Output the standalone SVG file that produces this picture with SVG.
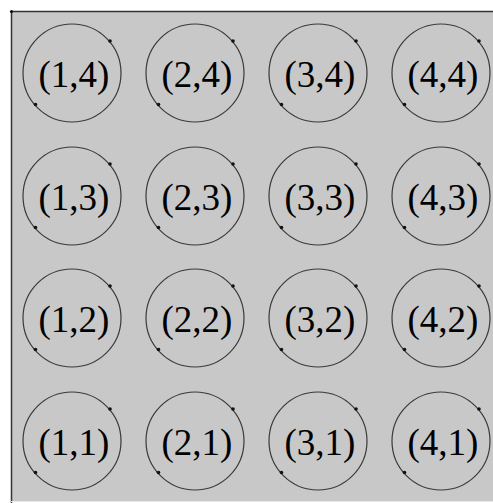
<svg xmlns="http://www.w3.org/2000/svg" width="493" height="503" viewBox="0 0 493 503">
<style>
.ring{fill:none;stroke:#3a3a3a;stroke-width:1.2}
.dot{fill:#111}
.lbl{font-family:"Liberation Serif",serif;font-size:37px;fill:#000;text-anchor:middle}
</style>
<defs>
<g id="node">
<circle class="ring" cx="0" cy="0" r="49"/>
<circle class="dot" cx="38" cy="-32" r="1.8"/>
<circle class="dot" cx="-36.5" cy="31.5" r="1.8"/>
</g>
</defs>
<rect x="0" y="0" width="493" height="503" fill="#ffffff"/>
<rect x="11" y="11" width="482" height="490" fill="#c8c8c8"/>
<line x1="11" y1="11.5" x2="493" y2="11.5" stroke="#333" stroke-width="1.5"/>
<line x1="11.5" y1="11" x2="11.5" y2="503" stroke="#333" stroke-width="1.5"/>
<line x1="11" y1="501.5" x2="493" y2="501.5" stroke="#e8e8e8" stroke-width="1"/>
<circle cx="11.5" cy="11.5" r="1.6" fill="#111"/>
<g id="connectors"></g>
<g id="n14"><use href="#node" x="72" y="73"/><text class="lbl" x="74" y="86.5">(1,4)</text></g>
<g id="n24"><use href="#node" x="195" y="73"/><text class="lbl" x="197" y="86.5">(2,4)</text></g>
<g id="n34"><use href="#node" x="318" y="73"/><text class="lbl" x="320" y="86.5">(3,4)</text></g>
<g id="n44"><use href="#node" x="441" y="73"/><text class="lbl" x="443" y="86.5">(4,4)</text></g>
<g id="n13"><use href="#node" x="72" y="196"/><text class="lbl" x="74" y="209.5">(1,3)</text></g>
<g id="n23"><use href="#node" x="195" y="196"/><text class="lbl" x="197" y="209.5">(2,3)</text></g>
<g id="n33"><use href="#node" x="318" y="196"/><text class="lbl" x="320" y="209.5">(3,3)</text></g>
<g id="n43"><use href="#node" x="441" y="196"/><text class="lbl" x="443" y="209.5">(4,3)</text></g>
<g id="n12"><use href="#node" x="72" y="318"/><text class="lbl" x="74" y="331.5">(1,2)</text></g>
<g id="n22"><use href="#node" x="195" y="318"/><text class="lbl" x="197" y="331.5">(2,2)</text></g>
<g id="n32"><use href="#node" x="318" y="318"/><text class="lbl" x="320" y="331.5">(3,2)</text></g>
<g id="n42"><use href="#node" x="441" y="318"/><text class="lbl" x="443" y="331.5">(4,2)</text></g>
<g id="n11"><use href="#node" x="72" y="441"/><text class="lbl" x="74" y="454.5">(1,1)</text></g>
<g id="n21"><use href="#node" x="195" y="441"/><text class="lbl" x="197" y="454.5">(2,1)</text></g>
<g id="n31"><use href="#node" x="318" y="441"/><text class="lbl" x="320" y="454.5">(3,1)</text></g>
<g id="n41"><use href="#node" x="441" y="441"/><text class="lbl" x="443" y="454.5">(4,1)</text></g>
</svg>
